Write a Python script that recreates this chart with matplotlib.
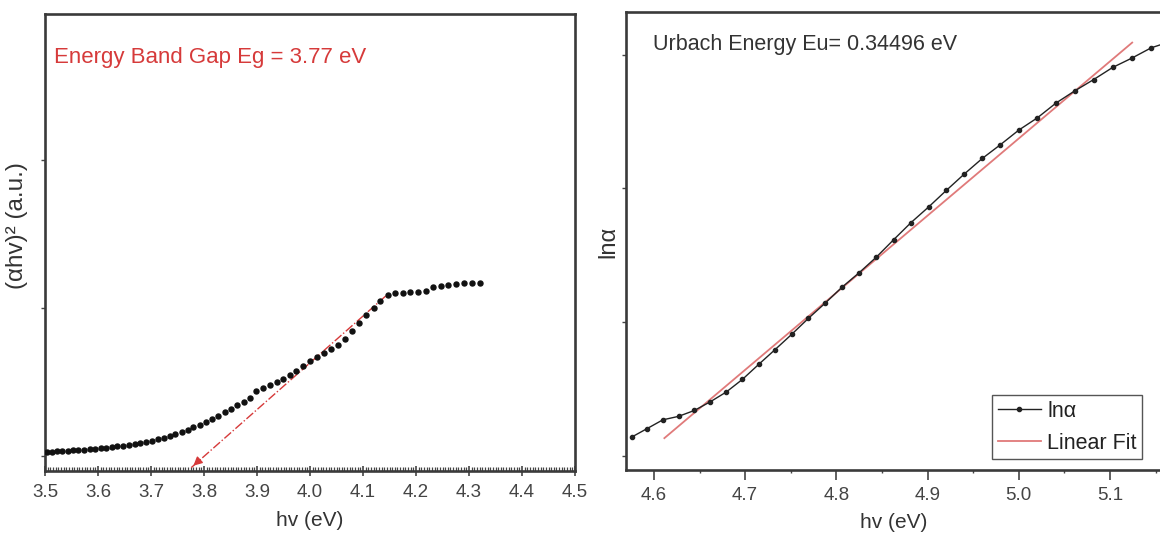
import matplotlib
matplotlib.use("Agg")
import matplotlib.pyplot as plt
from matplotlib.ticker import MultipleLocator

plt.rcParams['font.family'] = ['Liberation Sans', 'DejaVu Sans']

# ---------------- data: left panel (Tauc plot) ----------------
hv_tauc = [3.503, 3.513, 3.523, 3.533, 3.543, 3.553, 3.563, 3.573, 3.584, 3.594,
           3.605, 3.615, 3.626, 3.636, 3.647, 3.658, 3.669, 3.680, 3.690, 3.701,
           3.713, 3.724, 3.735, 3.746, 3.758, 3.769, 3.780, 3.792, 3.804, 3.815,
           3.827, 3.839, 3.851, 3.863, 3.875, 3.887, 3.899, 3.912, 3.924, 3.937,
           3.949, 3.962, 3.974, 3.987, 4.000, 4.013, 4.026, 4.039, 4.052, 4.066,
           4.079, 4.092, 4.106, 4.120, 4.133, 4.147, 4.161, 4.175, 4.189, 4.203,
           4.218, 4.232, 4.247, 4.261, 4.276, 4.291, 4.306, 4.321]
ahv2 = [0.028, 0.030, 0.032, 0.034, 0.036, 0.039, 0.041, 0.044, 0.047, 0.050,
        0.053, 0.057, 0.061, 0.065, 0.070, 0.076, 0.082, 0.089, 0.096, 0.104,
        0.112, 0.122, 0.133, 0.146, 0.162, 0.178, 0.195, 0.213, 0.232, 0.252,
        0.273, 0.295, 0.318, 0.342, 0.368, 0.395, 0.440, 0.462, 0.480, 0.500,
        0.520, 0.545, 0.575, 0.610, 0.645, 0.670, 0.695, 0.720, 0.750, 0.790,
        0.845, 0.900, 0.950, 1.000, 1.045, 1.085, 1.100, 1.103, 1.106, 1.110,
        1.118, 1.145, 1.152, 1.158, 1.163, 1.168, 1.170, 1.168]
tangent_x = [3.776, 4.147]
tangent_y = [-0.078, 1.094]
left_xticks = [3.5, 3.6, 3.7, 3.8, 3.9, 4.0, 4.1, 4.2, 4.3, 4.4, 4.5]
left_text = "Energy Band Gap Eg = 3.77 eV"

# ---------------- data: right panel (Urbach plot) ----------------
hv_urb = [4.5756, 4.5926, 4.6097, 4.6269, 4.6442, 4.6617, 4.6792, 4.6970, 4.7148, 4.7328,
          4.7510, 4.7692, 4.7876, 4.8062, 4.8249, 4.8438, 4.8627, 4.8819, 4.9012, 4.9206,
          4.9402, 4.9600, 4.9799, 5.0000, 5.0202, 5.0407, 5.0612, 5.0820, 5.1029, 5.1240,
          5.1452, 5.1667]
ln_alpha = [0.138, 0.202, 0.267, 0.293, 0.337, 0.402, 0.475, 0.570, 0.682, 0.793,
            0.907, 1.026, 1.140, 1.260, 1.368, 1.485, 1.615, 1.744, 1.861, 1.985,
            2.107, 2.224, 2.327, 2.436, 2.527, 2.638, 2.729, 2.814, 2.905, 2.975,
            3.052, 3.100]
fit_x = [4.6114, 5.1243]
fit_y = [0.130, 3.091]
right_xticks = [4.6, 4.7, 4.8, 4.9, 5.0, 5.1]
right_text = "Urbach Energy Eu= 0.34496 eV"

W, H = 1160, 543
fig = plt.figure(figsize=(W / 100, H / 100), dpi=100)

def frac_box(x0, y0, x1, y1):
    return [x0 / W, 1 - y1 / H, (x1 - x0) / W, (y1 - y0) / H]

spine_c = '#3a3a3a'
tick_c = '#444444'
red = '#d63a3a'

# ---------------- left axes ----------------
ax1 = fig.add_axes(frac_box(45, 14, 575, 471))
ax1.plot(hv_tauc, ahv2, linestyle='none', marker='o', markersize=3.6,
         color='#111111', zorder=3)
ax1.plot(tangent_x, tangent_y, linestyle='-.', color=red, lw=1.0, zorder=2)
ax1.annotate('', xy=(tangent_x[0], tangent_y[0]),
             xytext=(tangent_x[0] + 0.02, tangent_y[0] + 0.065),
             arrowprops=dict(arrowstyle='-|>', color=red, lw=1.0, mutation_scale=13),
             annotation_clip=False)
ax1.set_xlim(3.5, 4.5)
ax1.set_ylim(-0.101, 2.986)
ax1.set_xticks(left_xticks)
ax1.set_xticklabels([f"{v:.1f}" for v in left_xticks])
ax1.xaxis.set_minor_locator(MultipleLocator(0.005))
ax1.set_yticks([0, 1, 2])
ax1.set_yticklabels([])
ax1.tick_params(axis='x', which='major', direction='inout', length=7, width=1.2,
                colors=tick_c, labelsize=13.5, pad=6)
ax1.tick_params(axis='x', which='minor', direction='in', length=3, width=0.9, colors=tick_c)
ax1.tick_params(axis='y', which='major', direction='out', length=3, width=1.0, colors=tick_c)
for s in ax1.spines.values():
    s.set_color(spine_c)
    s.set_linewidth(1.9)
ax1.text((54 - 45) / 530, (471 - 63.3) / 457, left_text, transform=ax1.transAxes,
         color=red, fontsize=16, ha='left', va='baseline')

# ---------------- right axes ----------------
ax2 = fig.add_axes(frac_box(625.7, 12, 1162, 470))
ax2.plot(hv_urb, ln_alpha, linestyle='-', lw=1.0, color='#222222', marker='o',
         markersize=3.0, label='lnα', zorder=3)
ax2.plot(fit_x, fit_y, linestyle='-', lw=1.3, color='#e07a7a', label='Linear Fit', zorder=2)
ax2.set_xlim(4.569, 5.157)
ax2.set_ylim(-0.1085, 3.32)
ax2.set_xticks(right_xticks)
ax2.set_xticklabels([f"{v:.1f}" for v in right_xticks])
ax2.xaxis.set_minor_locator(MultipleLocator(0.05))
ax2.set_yticks([0, 1, 2, 3])
ax2.set_yticklabels([])
ax2.tick_params(axis='x', which='major', direction='out', length=7, width=1.2,
                colors=tick_c, labelsize=13.5, pad=5)
ax2.tick_params(axis='x', which='minor', direction='out', length=2.5, width=1.0, colors=tick_c)
ax2.tick_params(axis='y', which='major', direction='out', length=3, width=1.0, colors=tick_c)
for s in ax2.spines.values():
    s.set_color(spine_c)
    s.set_linewidth(1.9)
ax2.text((652.7 - 625.7) / 536.3, (470 - 50) / 458, right_text, transform=ax2.transAxes,
         color='#333333', fontsize=15.5, ha='left', va='baseline')
leg = ax2.legend(loc='lower right', bbox_to_anchor=((1142 - 625.7) / 536.3, (470 - 459) / 458),
                 borderaxespad=0, fontsize=15.5, frameon=True, fancybox=False,
                 framealpha=1, edgecolor='#555555', handlelength=2.0,
                 handletextpad=0.3, borderpad=0.25, labelspacing=0.5)
leg.get_frame().set_linewidth(1.0)
for t in leg.get_texts():
    t.set_color('#222222')

# ---------------- axis labels ----------------
fig.text(17 / W, 1 - 226 / H, "(αhv)² (a.u.)", rotation=90, ha='center', va='center',
         fontsize=17.5, color='#333333')
fig.text(608 / W, 1 - 242 / H, "lnα", rotation=90, ha='center', va='center',
         fontsize=17, color='#333333')
fig.text(310 / W, 1 - 521 / H, "hv (eV)", ha='center', va='center', fontsize=15, color='#333333')
fig.text(894 / W, 1 - 522 / H, "hv (eV)", ha='center', va='center', fontsize=15, color='#333333')

fig.savefig("out.png", dpi=100)
